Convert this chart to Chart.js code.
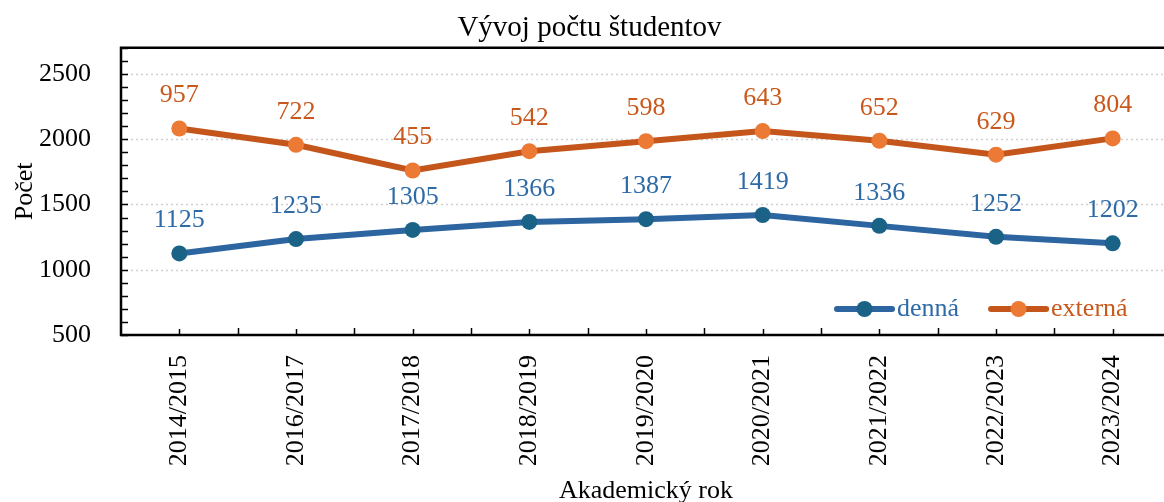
<!DOCTYPE html>
<html>
<head>
<meta charset="utf-8">
<script src="https://cdn.jsdelivr.net/npm/chart.js@4/dist/chart.umd.min.js"></script>
<style>
html,body{margin:0;padding:0;overflow:hidden;background:#fff;}
#wrap{width:1179px;height:502px;}
</style>
</head>
<body>
<div id="wrap"><canvas id="c" width="1179" height="502"></canvas></div>
<script>
const categories = ['2014/2015','2016/2017','2017/2018','2018/2019','2019/2020','2020/2021','2021/2022','2022/2023','2023/2024'];
const denna = [1125,1235,1305,1366,1387,1419,1336,1252,1202];
const externa = [957,722,455,542,598,643,652,629,804];
const seriesNames = ['denná','externá'];
const titleText = 'Vývoj počtu študentov';
const yTitle = 'Počet';
const xTitle = 'Akademický rok';

const FONT = "'Liberation Serif', 'Times New Roman', serif";
const BLUE_LINE = '#2C65A0', BLUE_PT = '#1B6386', BLUE_TXT = '#2E6BA6';
const OR_LINE = '#C4561B', OR_PT = '#EC7A35', OR_TXT = '#C9581C';

const framePlugin = {
  id: 'frame',
  beforeDatasetsDraw(chart) {
    const {ctx, chartArea: a, scales: {x, y}} = chart;
    ctx.save();
    ctx.strokeStyle = '#cfcfcf';
    ctx.lineWidth = 1.5;
    ctx.setLineDash([2, 3]);
    y.ticks.forEach(t => {
      if (t.value % 500 === 0 && t.value > y.min && t.value < y.max) {
        const py = Math.round(y.getPixelForValue(t.value)) + 0.5;
        ctx.beginPath(); ctx.moveTo(a.left, py); ctx.lineTo(a.right, py); ctx.stroke();
      }
    });
    ctx.setLineDash([]);
    ctx.strokeStyle = '#000';
    ctx.lineWidth = 2.5;
    ctx.beginPath();
    ctx.moveTo(a.right + 10, a.top); ctx.lineTo(a.left, a.top);
    ctx.lineTo(a.left, a.bottom); ctx.lineTo(a.right + 10, a.bottom);
    ctx.stroke();
    ctx.lineWidth = 1.5;
    y.ticks.forEach(t => {
      const py = Math.round(y.getPixelForValue(t.value)) + 0.5;
      ctx.beginPath(); ctx.moveTo(a.left, py); ctx.lineTo(a.left + 7, py); ctx.stroke();
    });
    const n = categories.length;
    for (let i = 0; i < n; i++) {
      const px = Math.round(x.getPixelForValue(i)) + 0.5;
      ctx.beginPath(); ctx.moveTo(px, a.bottom); ctx.lineTo(px, a.bottom - 6); ctx.stroke();
      if (i > 0) {
        const pb = Math.round((x.getPixelForValue(i) + x.getPixelForValue(i - 1)) / 2) + 0.5;
        ctx.beginPath(); ctx.moveTo(pb, a.bottom); ctx.lineTo(pb, a.bottom - 7); ctx.stroke();
      }
    }
    ctx.restore();
  },
  afterDatasetsDraw(chart) {
    const {ctx, chartArea: a} = chart;
    ctx.save();
    ctx.font = '26px ' + FONT;
    ctx.textAlign = 'center';
    ctx.textBaseline = 'middle';
    chart.data.datasets.forEach((ds, di) => {
      const meta = chart.getDatasetMeta(di);
      ctx.fillStyle = ds.labelColor;
      meta.data.forEach((pt, i) => {
        ctx.fillText(String(ds.data[i]), pt.x, pt.y - 33);
      });
    });
    let lx = a.right - 334;
    const ly = a.bottom - 26;
    ctx.textAlign = 'left';
    chart.data.datasets.forEach((ds, di) => {
      ctx.strokeStyle = ds.borderColor;
      ctx.lineWidth = 6;
      ctx.lineCap = 'round';
      ctx.beginPath(); ctx.moveTo(lx, ly); ctx.lineTo(lx + 55, ly); ctx.stroke();
      ctx.fillStyle = ds.pointBackgroundColor;
      ctx.beginPath(); ctx.arc(lx + 27.5, ly, 8, 0, Math.PI * 2); ctx.fill();
      ctx.fillStyle = ds.labelColor;
      ctx.fillText(ds.label, lx + 60, ly);
      lx += 60 + ctx.measureText(ds.label).width + 32;
    });
    ctx.restore();
  }
};

new Chart(document.getElementById('c'), {
  type: 'line',
  data: {
    labels: categories,
    datasets: [
      {label: seriesNames[0], data: denna, borderColor: BLUE_LINE, pointBackgroundColor: BLUE_PT, labelColor: BLUE_TXT,
       borderWidth: 6, pointRadius: 8, pointBorderWidth: 0, pointHoverRadius: 8, tension: 0, fill: false},
      {label: seriesNames[1], data: externa, borderColor: OR_LINE, pointBackgroundColor: OR_PT, labelColor: OR_TXT,
       borderWidth: 6, pointRadius: 8, pointBorderWidth: 0, pointHoverRadius: 8, tension: 0, fill: false}
    ]
  },
  options: {
    responsive: false,
    animation: false,
    devicePixelRatio: 1,
    layout: {padding: 0},
    plugins: {
      legend: {display: false},
      tooltip: {enabled: false},
      title: {display: true, text: titleText, color: '#000', font: {family: FONT, size: 29, weight: 'normal'}, padding: {top: 11, bottom: 2}}
    },
    scales: {
      x: {
        type: 'category',
        offset: true,
        grid: {display: false},
        border: {display: false},
        ticks: {color: '#000', font: {family: FONT, size: 26}, minRotation: 90, maxRotation: 90, padding: 12, autoSkip: false},
        title: {display: true, text: xTitle, color: '#000', font: {family: FONT, size: 26}, padding: {top: 0, bottom: -5}},
        afterFit(s) { s.height = 167; }
      },
      y: {
        stacked: true,
        min: 500, max: 2700,
        grid: {display: false},
        border: {display: false},
        ticks: {stepSize: 100, autoSkip: false, color: '#000', font: {family: FONT, size: 26}, padding: 22,
          callback: v => (v % 500 === 0 ? String(v) : '')},
        title: {display: true, text: yTitle, color: '#000', font: {family: FONT, size: 26}, padding: {top: 10, bottom: 0}},
        afterFit(s) { s.width = 121; }
      }
    }
  },
  plugins: [framePlugin]
});
</script>
</body>
</html>
